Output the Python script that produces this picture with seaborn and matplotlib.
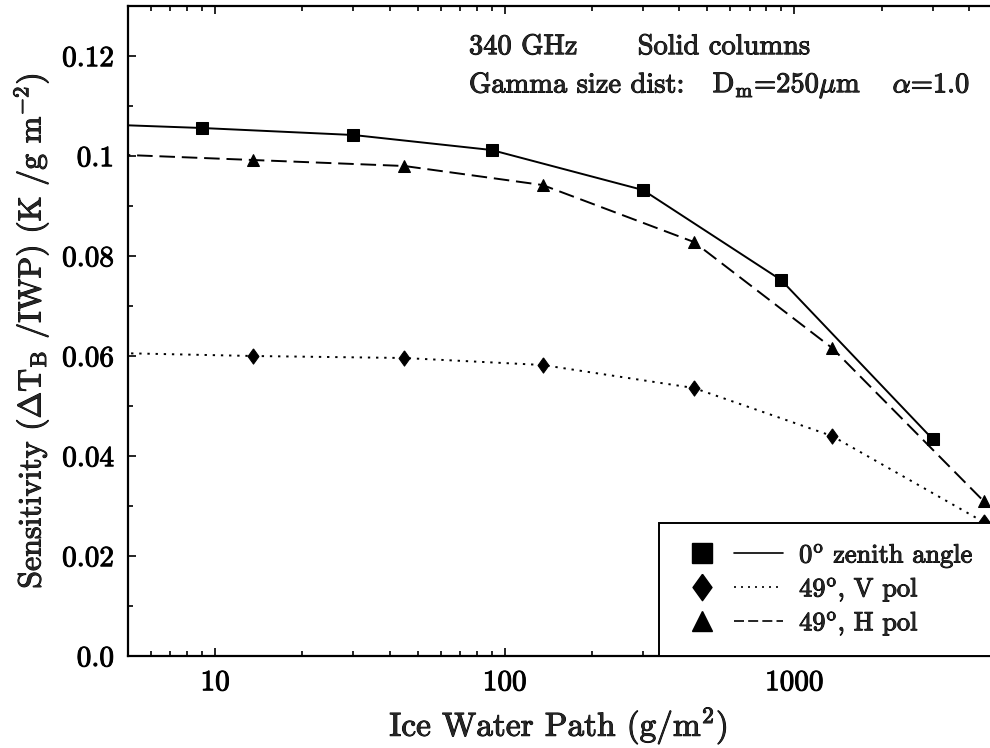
import numpy as np
import pandas as pd
import seaborn as sns
import matplotlib
matplotlib.use("Agg")
import matplotlib.pyplot as plt
import matplotlib.patheffects as pe
from matplotlib.ticker import FixedLocator, FixedFormatter, LogLocator, MultipleLocator, NullFormatter
from matplotlib.lines import Line2D
from matplotlib.legend_handler import HandlerTuple

# Ice water path (g/m^2) for the nadir and 49-degree runs
iwp_nadir = [3, 9, 30, 90, 300, 900, 3000]
iwp_slant = [4.5, 13.5, 45, 135, 450, 1350, 4500]

# Sensitivity dTB/IWP (K per g m^-2)
sens_zenith = [0.1066, 0.1056, 0.1042, 0.1012, 0.0932, 0.0752, 0.0434]
sens_vpol = [0.0606, 0.0600, 0.0596, 0.0582, 0.0536, 0.0440, 0.0268]
sens_hpol = [0.1003, 0.0992, 0.0980, 0.0942, 0.0828, 0.0616, 0.0310]

series_labels = [r"$0^{\mathrm{o}}$ zenith angle", r"$49^{\mathrm{o}}$, V pol", r"$49^{\mathrm{o}}$, H pol"]

x_ticks = [10, 100, 1000]
x_ticklabels = ["10", "100", "1000"]
y_ticks = [0.0, 0.02, 0.04, 0.06, 0.08, 0.1, 0.12]
y_ticklabels = ["0.0", "0.02", "0.04", "0.06", "0.08", "0.1", "0.12"]

sns.set_theme(style="white")
plt.rcParams["font.family"] = ["cmr10", "DejaVu Serif"]
plt.rcParams["mathtext.fontset"] = "cm"
plt.rcParams["axes.unicode_minus"] = False
plt.rcParams["axes.formatter.use_mathtext"] = True

# slightly heavier strokes for all lettering
bold = [pe.withStroke(linewidth=0.7, foreground="black")]

# tall diamond marker
tall_diamond = [(0, 1), (0.72, 0), (0, -1), (-0.72, 0), (0, 1)]

fig = plt.figure(figsize=(9.9, 7.48), dpi=100)
ax = fig.add_axes([128 / 990, 92 / 748, 861 / 990, 650 / 748])

df_zen = pd.DataFrame({"iwp": iwp_nadir, "sens": sens_zenith})
df_v = pd.DataFrame({"iwp": iwp_slant, "sens": sens_vpol})
df_h = pd.DataFrame({"iwp": iwp_slant, "sens": sens_hpol})

sns.lineplot(data=df_zen, x="iwp", y="sens", ax=ax, color="black", lw=1.4,
             marker="s", markersize=9, markeredgecolor="black", linestyle="-")
sns.lineplot(data=df_v, x="iwp", y="sens", ax=ax, color="black", lw=1.4,
             marker=tall_diamond, markersize=11, markeredgecolor="black", linestyle=(0, (1.2, 3.0)))
sns.lineplot(data=df_h, x="iwp", y="sens", ax=ax, color="black", lw=1.4,
             marker="^", markersize=9, markeredgecolor="black", linestyle=(0, (8, 3.5)))

ax.set_xscale("log")
ax.set_xlim(5, 4700)
ax.set_ylim(0, 0.13)

ax.xaxis.set_major_locator(FixedLocator(x_ticks))
ax.xaxis.set_major_formatter(FixedFormatter(x_ticklabels))
ax.xaxis.set_minor_locator(LogLocator(base=10, subs=np.arange(2, 10)))
ax.xaxis.set_minor_formatter(NullFormatter())
ax.yaxis.set_major_locator(FixedLocator(y_ticks))
ax.yaxis.set_major_formatter(FixedFormatter(y_ticklabels))
ax.yaxis.set_minor_locator(MultipleLocator(0.01))

ax.tick_params(which="both", direction="in", top=True, bottom=True, left=True, right=False,
               colors="black", labelsize=21, width=1.2)
ax.tick_params(which="major", length=6, pad=10)
ax.tick_params(which="minor", length=3.5)

for side in ["left", "bottom", "top"]:
    ax.spines[side].set_color("black")
    ax.spines[side].set_linewidth(1.6)
ax.spines["right"].set_visible(False)

ax.set_xlabel(r"Ice Water Path (g/m$^2$)", fontsize=24, labelpad=6)
ax.set_ylabel(r"Sensitivity ($\Delta\mathrm{T_B}$ /IWP) (K /g m$^{-2}$)", fontsize=23, labelpad=8)

# Model setup annotation
notes = [
    (0.396, 0.937, "340 GHz"),
    (0.592, 0.937, "Solid columns"),
    (0.396, 0.878, "Gamma size dist:"),
    (0.679, 0.878, r"D$_\mathrm{m}$=250$\mu$m"),
    (0.888, 0.878, r"$\alpha$=1.0"),
]
for nx, ny, s in notes:
    ax.text(nx, ny, s, transform=ax.transAxes, fontsize=20.5, va="center", ha="left",
            path_effects=bold)

# Legend: marker and line style drawn side by side
handles = []
for mk, ms, ls in [("s", 14, "-"), (tall_diamond, 19, (0, (1.2, 3.0))), ("^", 14, (0, (6, 2.5)))]:
    m = Line2D([], [], marker=mk, markersize=ms, color="black", linestyle="none")
    l = Line2D([], [], color="black", lw=1.2, linestyle=ls)
    handles.append((m, l))
leg = ax.legend(handles, series_labels, handler_map={tuple: HandlerTuple(ndivide=None, pad=0.25)},
                loc="lower left", bbox_to_anchor=(0.617, 0.0), fontsize=19, frameon=True,
                fancybox=False, handlelength=4.0, handletextpad=0.6, labelspacing=0.25,
                borderpad=0.7, borderaxespad=0.0)
leg.get_frame().set_edgecolor("black")
leg.get_frame().set_linewidth(1.4)
leg.get_frame().set_facecolor("white")
leg.get_frame().set_alpha(1.0)
for t in leg.get_texts():
    t.set_path_effects(bold)

for t in ax.get_xticklabels() + ax.get_yticklabels():
    t.set_path_effects(bold)
ax.xaxis.label.set_path_effects(bold)
ax.yaxis.label.set_path_effects(bold)

fig.savefig("out.png", dpi=100)
